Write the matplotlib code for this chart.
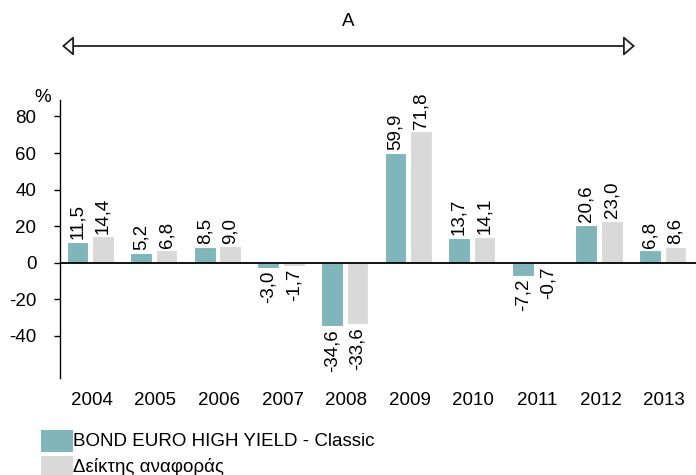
import matplotlib
matplotlib.use("Agg")
import matplotlib.pyplot as plt
from matplotlib.patches import Rectangle, FancyArrowPatch
import numpy as np

plt.rcParams['font.family'] = ['Liberation Sans', 'DejaVu Sans']

# Chart data
years = ['2004', '2005', '2006', '2007', '2008', '2009', '2010', '2011', '2012', '2013']
fund = [11.5, 5.2, 8.5, -3.0, -34.6, 59.9, 13.7, -7.2, 20.6, 6.8]
benchmark = [14.4, 6.8, 9.0, -1.7, -33.6, 71.8, 14.1, -0.7, 23.0, 8.6]
fund_name = 'BOND EURO HIGH YIELD - Classic'
bench_name = 'Δείκτης αναφοράς'
yticks = [-40, -20, 0, 20, 40, 60, 80]

TEAL = '#80b5ba'
GREY = '#d9d9d9'
FS = 13.5

fig = plt.figure(figsize=(6.96, 4.75), dpi=100)
W, H = 696, 475
ax = fig.add_axes([60 / W, (H - 378) / H, 1 - 60 / W, (378 - 100) / H])

x = np.arange(len(years))
bw = 0.34
ax.bar(x - 0.225, fund, bw, color=TEAL, edgecolor='white', linewidth=0.8)
ax.bar(x + 0.175, benchmark, bw, color=GREY, edgecolor='white', linewidth=0.8)


def fmt(v):
    return f'{v:.1f}'.replace('.', ',')


for xs, vals in ((x - 0.225, fund), (x + 0.175, benchmark)):
    for xi, v in zip(xs, vals):
        if v >= 0:
            ax.annotate(fmt(v), (xi, v), xytext=(0, 2), textcoords='offset points',
                        rotation=90, ha='center', va='bottom', fontsize=FS)
        else:
            ax.annotate(fmt(v), (xi, v), xytext=(0, -2), textcoords='offset points',
                        rotation=90, ha='center', va='top', fontsize=FS)

ax.set_xlim(-0.5, len(years) - 0.5)
ax.set_ylim(-63, 89)
ax.axhline(0, color='black', linewidth=1.3)

ax.set_yticks(yticks)
ax.set_yticklabels([str(t) for t in yticks], fontsize=FS)
ax.tick_params(axis='y', direction='out', length=4, width=1, pad=13)
ax.set_xticks(x)
ax.set_xticklabels(years, fontsize=FS)
ax.tick_params(axis='x', length=0, pad=10)

for side in ('top', 'right', 'bottom'):
    ax.spines[side].set_visible(False)
ax.spines['left'].set_linewidth(1)

fig.text(43 / W, 1 - 97 / H, '%', fontsize=FS, ha='center', va='center')

# Period arrow on top
fig.text(348 / W, 1 - 21 / H, 'A', fontsize=FS, ha='center', va='center')
fig.add_artist(FancyArrowPatch(
    (62 / W, 1 - 46 / H), (635 / W, 1 - 46 / H), transform=fig.transFigure,
    arrowstyle='<|-|>,head_length=7,head_width=6', mutation_scale=1,
    shrinkA=0, shrinkB=0, facecolor='white', edgecolor='#222222', linewidth=1.3))

# Legend rows
for yc, col, label in ((441, TEAL, fund_name), (467, GREY, bench_name)):
    fig.add_artist(Rectangle((41 / W, 1 - (yc + 11) / H), 32 / W, 22 / H,
                             transform=fig.transFigure, facecolor=col, edgecolor='none'))
    fig.text(73 / W, 1 - yc / H, label, fontsize=FS, ha='left', va='center')

fig.savefig('out.png', dpi=100)
